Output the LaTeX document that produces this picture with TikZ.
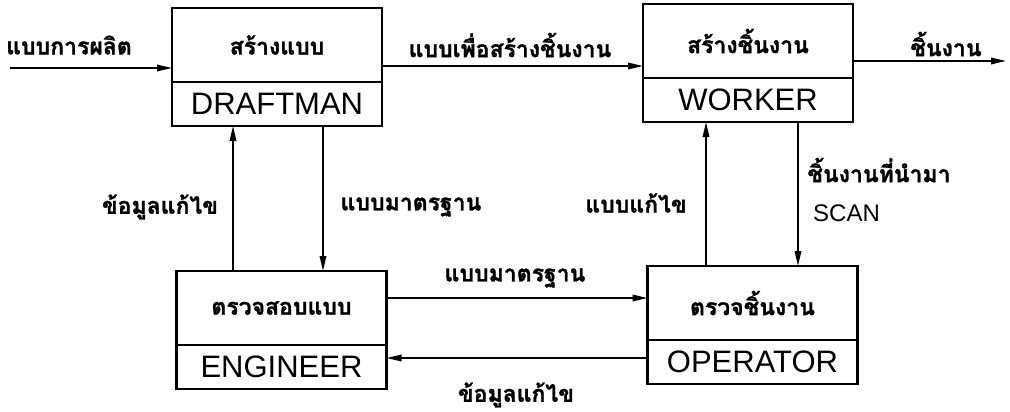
\documentclass[tikz,border=0pt]{standalone}
\usepackage{fontspec}
\setmainfont{Liberation Sans}
\newfontfamily\thaifont[Script=Thai,BoldFeatures={FakeBold=1.2}]{Loma}
\usetikzlibrary{arrows.meta,positioning}
\begin{document}
\begin{tikzpicture}[x=1pt,y=-1pt,
  arr/.style={line width=1.7pt,-{Triangle[length=15pt,width=6.5pt]}},
  upperbox/.style={draw,line width=2.2pt,outer sep=0pt,minimum width=210pt,minimum height=74pt,inner sep=0pt,font=\thaifont\bfseries\fontsize{23}{25}\selectfont},
  lowerbox/.style={draw,line width=2.2pt,outer sep=0pt,minimum width=210pt,minimum height=44pt,inner sep=0pt,font=\fontsize{31}{33}\selectfont},
  lbl/.style={inner sep=0pt,font=\thaifont\bfseries\fontsize{23}{25}\selectfont},
  eng/.style={inner sep=0pt,font=\fontsize{24}{26}\selectfont},
]
\useasboundingbox (0,0) rectangle (1010,412);
% boxes
\node[upperbox] (Du) at (277,45) {สร้างแบบ};
\node[lowerbox,below=0pt of Du] (Dl) {DRAFTMAN};
\node[upperbox] (Wu) at (748,41) {สร้างชิ้นงาน};
\node[lowerbox,below=0pt of Wu] (Wl) {WORKER};
\node[upperbox] (Eu) at (281.5,308) {ตรวจสอบแบบ};
\node[lowerbox,below=0pt of Eu] (El) {ENGINEER};
\node[upperbox] (Ou) at (752.5,303) {ตรวจชิ้นงาน};
\node[lowerbox,below=0pt of Ou] (Ol) {OPERATOR};
% labels
\node[lbl] (lin) at (69,45) {แบบการผลิต};
\node[lbl] (ldw) at (510,45) {แบบเพื่อสร้างชิ้นงาน};
\node[lbl] (lout) at (946,44) {ชิ้นงาน};
\node[lbl] (led) at (160,207) {ข้อมูลแก้ไข};
\node[lbl] (lde) at (411,207) {แบบมาตรฐาน};
\node[lbl] (lwo) at (636,203) {แบบแก้ไข};
\node[lbl] (low) at (879,170) {ชิ้นงานที่นำมา};
\node[eng,anchor=west] (scan) at (813,213) {SCAN};
\node[lbl] (leo) at (515,278) {แบบมาตรฐาน};
\node[lbl] (loe) at (516,395) {ข้อมูลแก้ไข};
% connectors
\coordinate (inS) at (10,68);
\coordinate (outE) at (1006,61);
\draw[arr] (inS) -- (inS -| Du.west);
\draw[arr] ([yshift=-21pt]Du.east) -- ([yshift=-21pt]Du.east -| Wu.west);
\draw[arr] (Wu.east |- outE) -- (outE);
\draw[arr] ([xshift=-48.5pt]Eu.north) -- ([xshift=-48.5pt]Eu.north |- Dl.south);
\draw[arr] ([xshift=46pt]Dl.south) -- ([xshift=46pt]Dl.south |- Eu.north);
\draw[arr] ([xshift=-46.5pt]Ou.north) -- ([xshift=-46.5pt]Ou.north |- Wl.south);
\draw[arr] ([xshift=50pt]Wl.south) -- ([xshift=50pt]Wl.south |- Ou.north);
\draw[arr] ([yshift=10pt]Eu.east) -- ([yshift=10pt]Eu.east -| Ou.west);
\draw[arr] ([yshift=4pt]Ol.west) -- ([yshift=4pt]Ol.west -| El.east);
\end{tikzpicture}
\end{document}
